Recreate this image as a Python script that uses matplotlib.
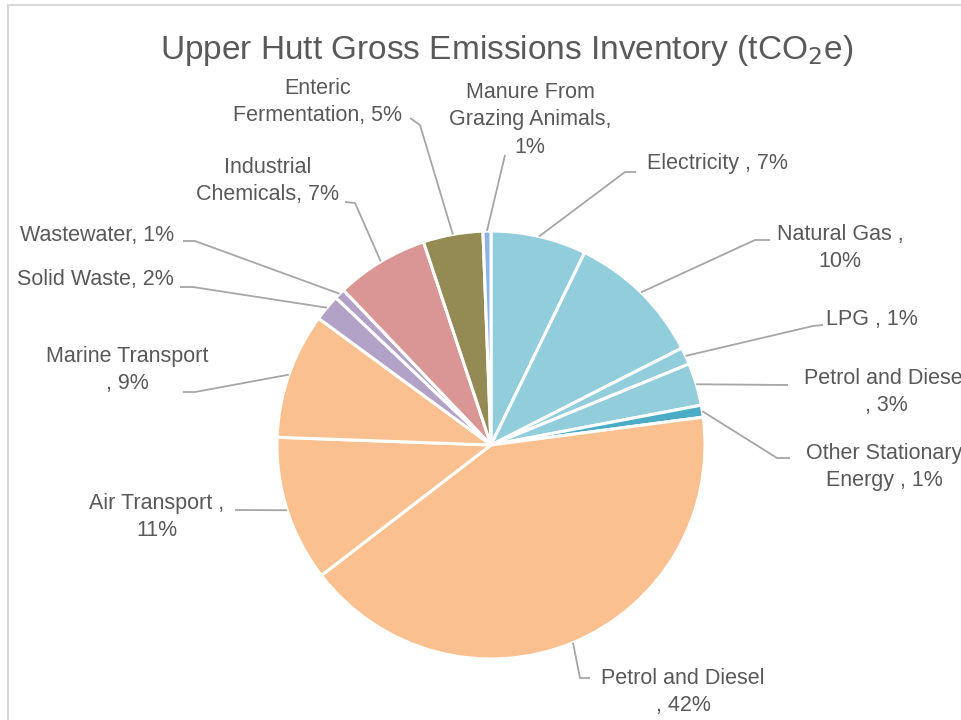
import numpy as np
import matplotlib.pyplot as plt
from matplotlib.patches import Rectangle

plt.rcParams['font.family'] = ['Liberation Sans Narrow', 'Liberation Sans', 'DejaVu Sans']

# data (clockwise from 12 o'clock, as in the Excel chart)
sectors = ["Electricity", "Natural Gas", "LPG", "Petrol and Diesel",
           "Other Stationary Energy", "Petrol and Diesel", "Air Transport",
           "Marine Transport", "Solid Waste", "Wastewater",
           "Industrial Chemicals", "Enteric Fermentation",
           "Manure From Grazing Animals"]
shares = [7.2, 10.3, 1.3, 3.2, 0.9, 41.6, 11.0, 9.5, 2.0, 0.8, 7.0, 4.5, 0.6]
colors = ["#92CDDC", "#92CDDC", "#92CDDC", "#92CDDC", "#4BACC6",
          "#FAC090", "#FAC090", "#FAC090", "#B3A2C7", "#B3A2C7",
          "#D99694", "#948A54", "#8EB4E3"]
label_texts = ["Electricity , 7%", "Natural Gas ,\n10%", "LPG , 1%",
               "Petrol and Diesel\n, 3%", "Other Stationary\nEnergy , 1%",
               "Petrol and Diesel\n, 42%", "Air Transport ,\n11%",
               "Marine Transport\n, 9%", "Solid Waste, 2%", "Wastewater, 1%",
               "Industrial\nChemicals, 7%", "Enteric\nFermentation, 5%",
               "Manure From\nGrazing Animals,\n1%"]

# label layout in pixel coords: text centre, leader start, elbow
label_pos = [(717, 163), (840, 248), (872, 320), (886, 392), (884, 467),
             (683, 692), (157, 517), (127, 370), (95, 279), (97, 235),
             (268, 181), (318, 102), (530, 120)]
leader_start = [(636, 172), (770, 240), (823, 325), (788, 385), (790, 458),
                (590, 678), (235, 510), (183, 392), (180, 287), (183, 241),
                (345, 202), (410, 118), (505, 155)]
leader_elbow = [(625, 172), (755, 240), (813, 326), (788, 385), (777, 458),
                (580, 678), (235, 510), (195, 392), (193, 287), (195, 241),
                (355, 203), (420, 125), (505, 155)]

W, H = 962, 720
fig = plt.figure(figsize=(9.62, 7.2), dpi=100)
ax = fig.add_axes([0, 0, 1, 1])

cx, cy, r = 491, H - 445, 214
wedges, _ = ax.pie(shares, colors=colors, startangle=90, counterclock=False,
                   center=(cx, cy), radius=r, frame=True,
                   wedgeprops=dict(edgecolor='white', linewidth=2.2))
ax.set_xlim(0, W)
ax.set_ylim(0, H)
ax.set_aspect('equal')
ax.axis('off')

txt_color = "#595959"
line_color = "#A6A6A6"
for w, txt, pos, s, e in zip(wedges, label_texts, label_pos, leader_start, leader_elbow):
    ang = np.deg2rad((w.theta1 + w.theta2) / 2)
    px, py = cx + r * np.cos(ang), cy + r * np.sin(ang)
    ax.plot([s[0], e[0], px], [H - s[1], H - e[1], py], color=line_color, lw=1.3,
            solid_capstyle='butt', zorder=1)
    ax.text(pos[0], H - pos[1], txt, ha='center', va='center', fontsize=15.5,
            color=txt_color, linespacing=1.4)

ax.text(507, H - 50, "Upper Hutt Gross Emissions Inventory (tCO$_2$e)",
        ha='center', va='center', fontsize=24, color=txt_color)

# chart area border (partly cropped)
fig.patches.append(Rectangle((8 / W, -0.1), 1.2, (H - 5) / H + 0.1,
                             transform=fig.transFigure, fill=False,
                             edgecolor="#D9D9D9", lw=1.5))

fig.savefig("out.png", dpi=100)
